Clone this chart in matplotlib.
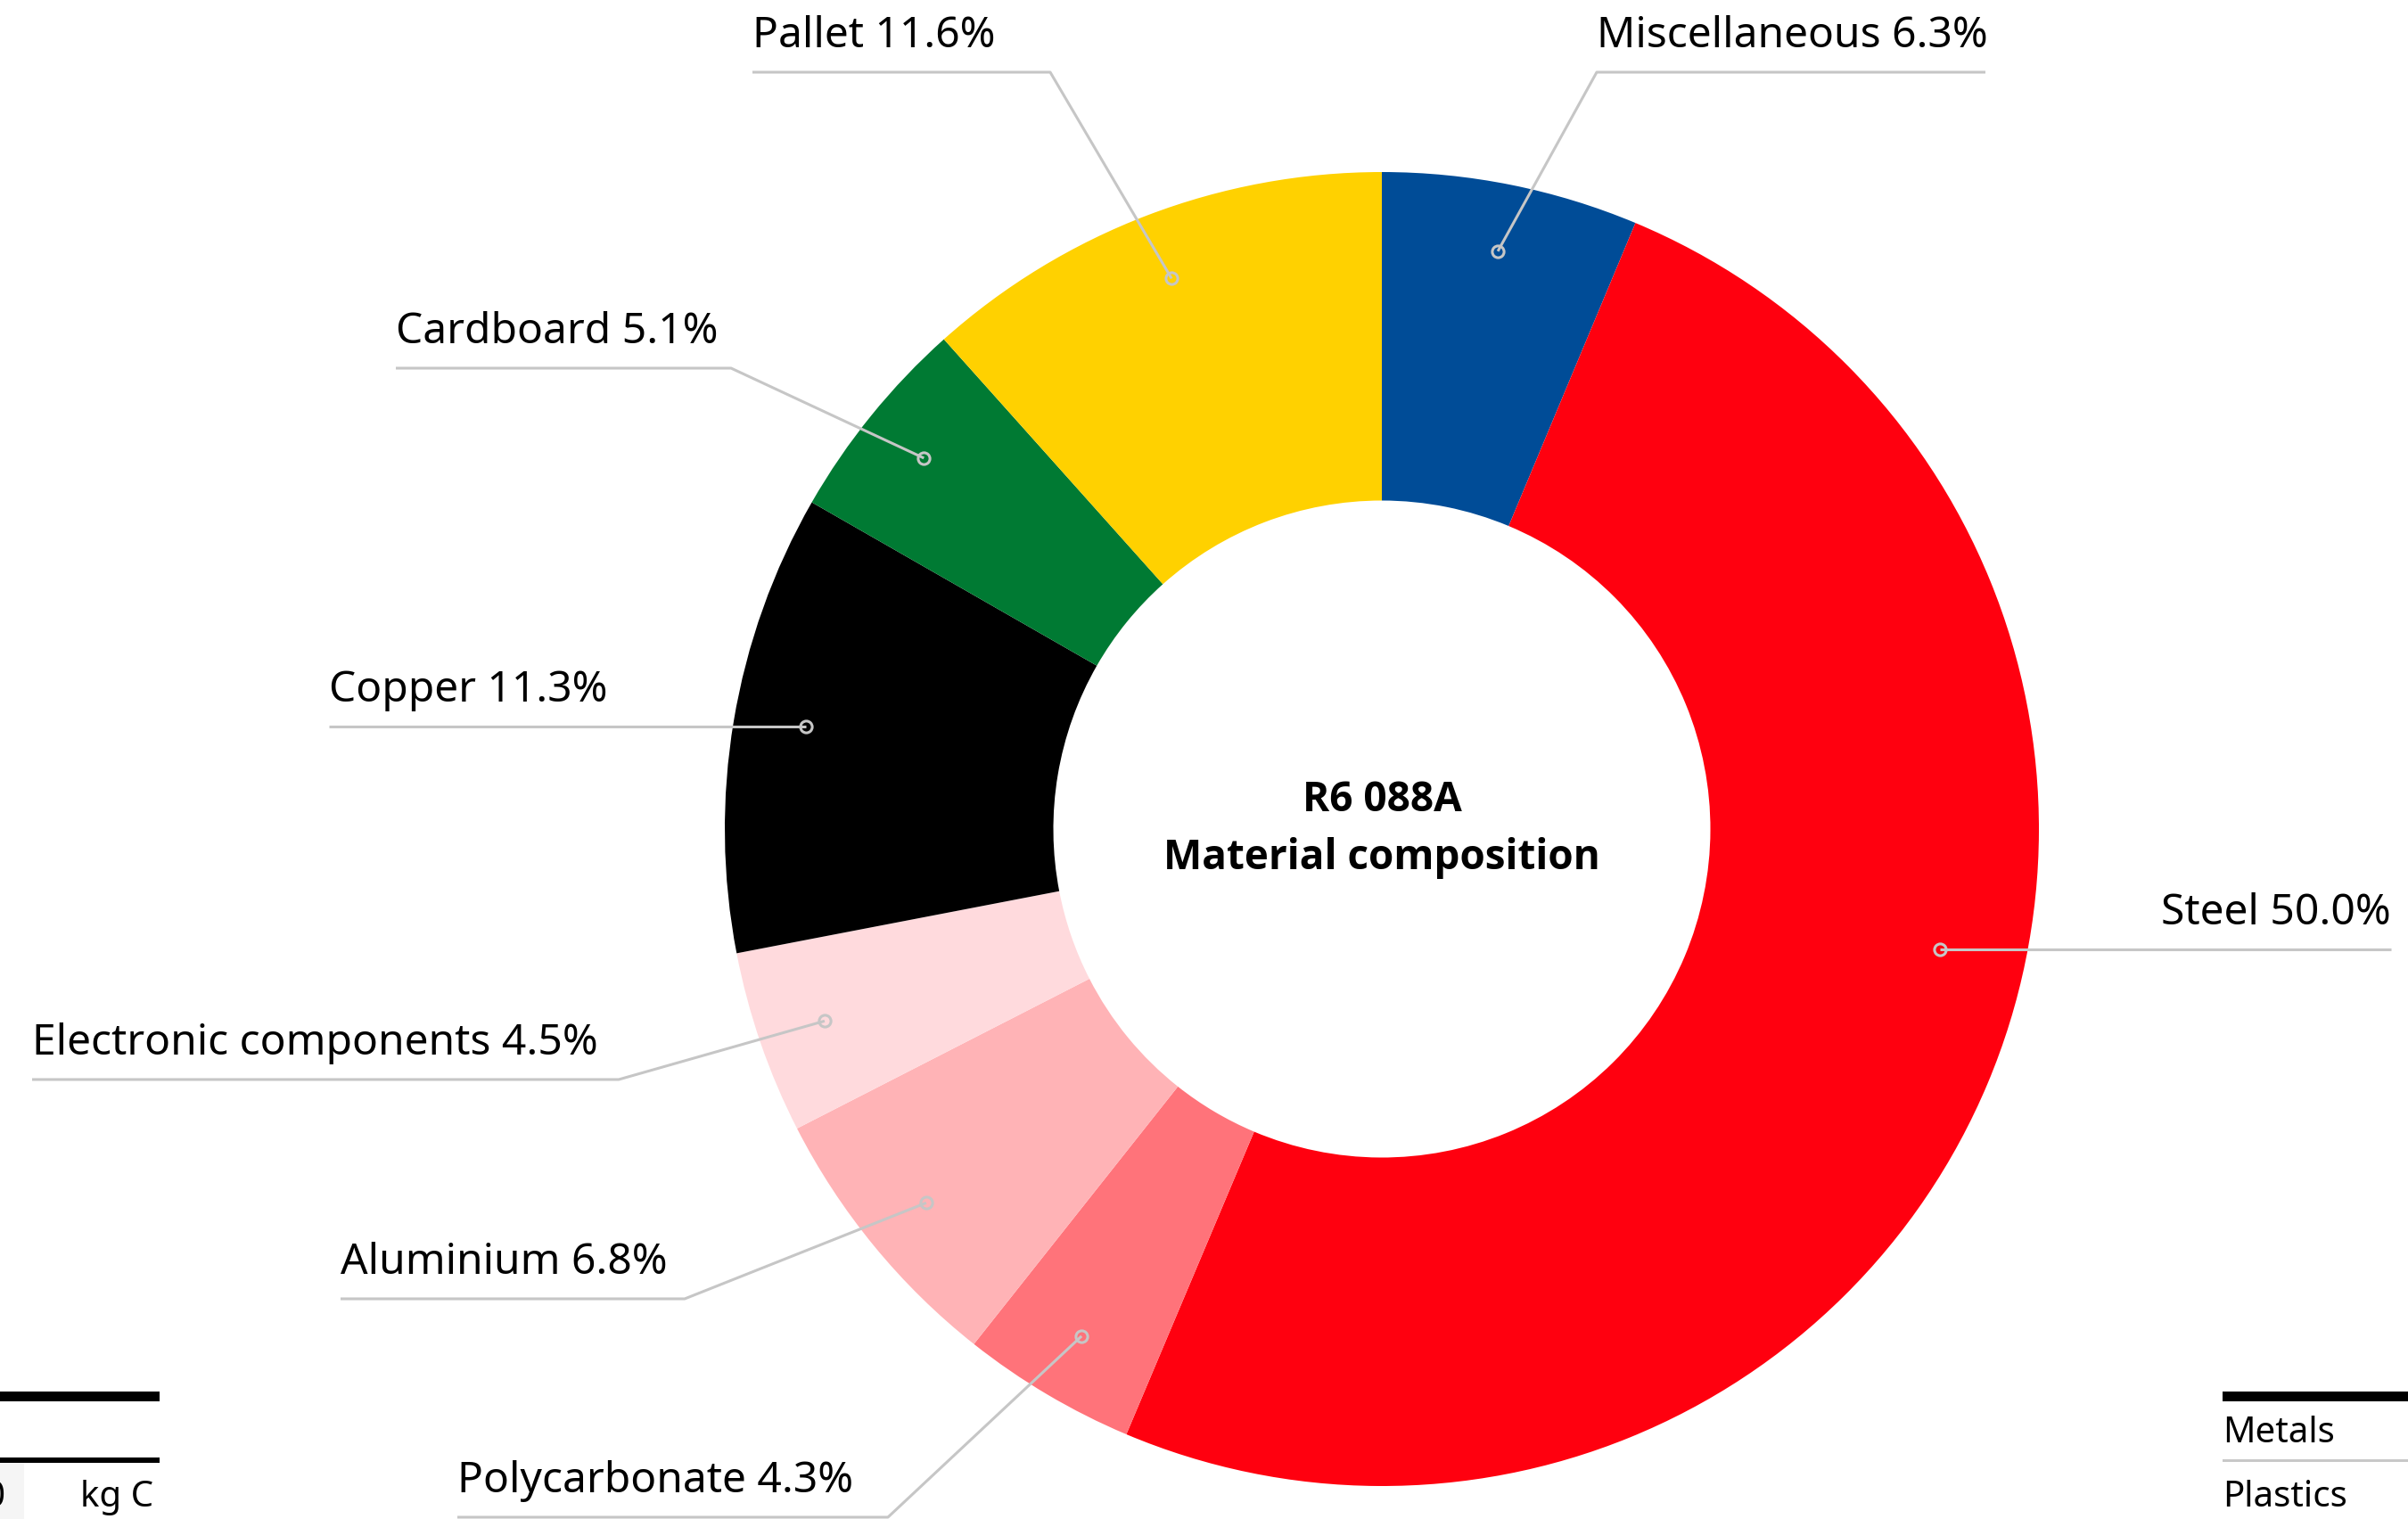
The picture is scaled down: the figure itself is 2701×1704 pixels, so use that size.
"""Donut chart of the material composition of R6 088A."""

import numpy as np
import matplotlib
matplotlib.use("Agg")
import matplotlib.pyplot as plt

# --- data ---
materials = [
    "Miscellaneous", "Steel", "Polycarbonate", "Aluminium",
    "Electronic components", "Copper", "Cardboard", "Pallet",
]
shares = [6.3, 50.0, 4.3, 6.8, 4.5, 11.3, 5.1, 11.6]
colors = [
    "#004C97", "#FF000F", "#FF737A", "#FFB3B6",
    "#FFDADD", "#000000", "#007A33", "#FFD100",
]
center_title = ["R6 088A", "Material composition"]

# --- layout (pixels of the 2701x1704 canvas, y down) ---
W, H = 2701, 1704
CX, CY, R = 1550, 930, 737
DOT_R = 0.897 * R
# x start, x end, y of underline, connector mode
# ("left"/"right" = elbow end of the underline, "flat" = dot on the underline)
label_lines = {
    "Miscellaneous": (1791, 2227, 81, "left"),
    "Steel": (2176, 2682, 1065, "flat"),
    "Polycarbonate": (513, 996, 1702, "right"),
    "Aluminium": (382, 768, 1457, "right"),
    "Electronic components": (36, 694, 1211, "right"),
    "Copper": (369, 904, 815, "flat"),
    "Cardboard": (444, 820, 413, "right"),
    "Pallet": (844, 1178, 81, "right"),
}

plt.rcParams["font.family"] = ["Noto Sans", "DejaVu Sans"]
GREY = "#C6C6C6"
LINE_KW = dict(color=GREY, lw=2.2, solid_capstyle="butt", zorder=3)

fig = plt.figure(figsize=(W / 100, H / 100), dpi=100)
ax = fig.add_axes([0, 0, 1, 1])

ax.pie(shares, colors=colors, startangle=-90, counterclock=True,
       center=(CX, CY), radius=R,
       wedgeprops=dict(width=R * 0.5, linewidth=0))
ax.set_xlim(0, W)
ax.set_ylim(H, 0)
ax.set_aspect("equal")
ax.axis("off")

total = sum(shares)
cum = np.cumsum([0] + shares[:-1])
for name, val, start in zip(materials, shares, cum):
    x0, x1, ly, mode = label_lines[name]
    if mode == "flat":
        px, py = (x0, ly) if x0 > CX else (x1, ly)
        ax.plot([x0, x1], [ly, ly], **LINE_KW)
    else:
        theta = np.deg2rad(-90 + 360 * (start + val / 2) / total)
        px, py = CX + DOT_R * np.cos(theta), CY + DOT_R * np.sin(theta)
        far, elbow = (x1, x0) if mode == "left" else (x0, x1)
        ax.plot([far, elbow, px], [ly, ly, py], **LINE_KW)
    ax.plot(px, py, marker="o", ms=9.5, mfc="none", mec=GREY, mew=2.2, zorder=4)

    label = f"{name} {val:.1f}%"
    if name == "Steel":
        ax.text(x1, ly - 28, label, ha="right", va="baseline", fontsize=34.5)
    else:
        ax.text(x0, ly - 28, label, ha="left", va="baseline", fontsize=34.5)

for line, dy in zip(center_title, (-33, 32)):
    ax.text(CX, CY + dy, line, ha="center", va="center", fontsize=33,
            fontweight="bold", family=["Open Sans", "DejaVu Sans"])

# fragments of the neighbouring tables at the bottom corners
ax.fill_between([0, 179], 1561, 1572, color="black", lw=0)
ax.fill_between([0, 179], 1635, 1641, color="black", lw=0)
ax.fill_between([0, 27], 1641, H, color="#F5F5F5", lw=0)
ax.text(6, 1690, "0", ha="right", va="baseline", fontsize=29)
ax.text(90, 1690, "kg C", ha="left", va="baseline", fontsize=29)

ax.fill_between([2493, W], 1561, 1572, color="black", lw=0)
ax.fill_between([2493, W], 1637, 1640, color="#C8C8C8", lw=0)
ax.text(2493, 1618, "Metals", ha="left", va="baseline", fontsize=29)
ax.text(2493, 1690, "Plastics", ha="left", va="baseline", fontsize=29)

fig.savefig("out.png", dpi=100)
plt.close(fig)
